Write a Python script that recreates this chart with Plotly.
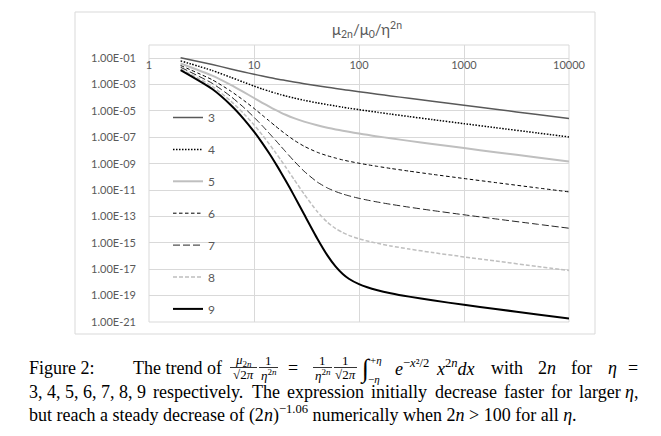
import plotly.graph_objects as go

# ---------------- data ----------------
two_n = [2, 4, 6, 8, 10, 12, 14, 16, 18, 20, 24, 30, 40, 50, 60, 70, 80,
         100, 120, 150, 200, 300, 500, 1000, 2000, 5000, 10000]

eta3 = [1.079e-1, 3.300e-2, 1.538e-2, 9.006e-3, 6.051e-3, 4.441e-3, 3.461e-3, 2.813e-3,
        2.359e-3, 2.025e-3, 1.572e-3, 1.171e-3, 8.180e-4, 6.272e-4, 5.080e-4, 4.270e-4,
        3.681e-4, 2.884e-4, 2.371e-4, 1.871e-4, 1.385e-4, 9.107e-5, 5.405e-5, 2.681e-5,
        1.335e-5, 5.327e-6, 2.661e-6]
eta4 = [6.243e-2, 1.164e-2, 3.570e-3, 1.495e-3, 7.740e-4, 4.652e-4, 3.111e-4, 2.247e-4,
        1.719e-4, 1.372e-4, 9.569e-5, 6.444e-5, 4.102e-5, 2.988e-5, 2.345e-5, 1.927e-5,
        1.635e-5, 1.254e-5, 1.017e-5, 7.917e-6, 5.782e-6, 3.755e-6, 2.207e-6, 1.087e-6,
        5.394e-7, 2.148e-7, 1.072e-7]
eta5 = [4.000e-2, 4.799e-3, 9.593e-4, 2.680e-4, 9.589e-5, 4.160e-5, 2.103e-5, 1.203e-5,
        7.583e-6, 5.168e-6, 2.852e-6, 1.544e-6, 8.133e-7, 5.364e-7, 3.990e-7, 3.162e-7,
        2.616e-7, 1.940e-7, 1.541e-7, 1.176e-7, 8.434e-8, 5.383e-8, 3.123e-8, 1.523e-8,
        7.524e-9, 2.988e-9, 1.490e-9]
eta6 = [2.778e-2, 2.315e-3, 3.215e-4, 6.251e-5, 1.563e-5, 4.773e-6, 1.721e-6, 7.152e-7,
        3.357e-7, 1.752e-7, 6.196e-8, 2.112e-8, 7.366e-9, 4.006e-9, 2.667e-9, 1.929e-9,
        1.537e-9, 1.088e-9, 8.400e-10, 6.253e-10, 4.381e-10, 2.738e-10, 1.564e-10, 7.548e-11,
        3.709e-11, 1.468e-11, 7.316e-12]
eta7 = [2.041e-2, 1.249e-3, 1.275e-4, 1.821e-5, 3.345e-6, 7.510e-7, 1.992e-7, 6.099e-8,
        2.116e-8, 8.203e-9, 1.646e-9, 2.689e-10, 4.106e-11, 1.451e-11, 7.731e-12, 5.057e-12,
        3.704e-12, 2.380e-12, 1.746e-12, 1.242e-12, 8.378e-13, 5.067e-13, 2.828e-13, 1.343e-13,
        6.552e-14, 2.583e-14, 1.285e-14]
eta8 = [1.5625e-2, 7.324e-4, 5.722e-5, 6.258e-6, 8.801e-7, 1.513e-7, 3.073e-8, 7.201e-9,
        1.913e-9, 5.679e-10, 6.697e-11, 4.998e-12, 2.377e-13, 3.667e-14, 1.198e-14, 5.959e-15,
        3.720e-15, 2.027e-15, 1.369e-15, 9.146e-16, 5.861e-16, 3.403e-16, 1.849e-16, 8.626e-17,
        4.173e-17, 1.637e-17, 8.135e-18]
eta9 = [1.235e-2, 4.572e-4, 2.823e-5, 2.439e-6, 2.710e-7, 3.681e-8, 5.907e-9, 1.094e-9,
        2.296e-10, 5.385e-11, 3.965e-12, 1.460e-13, 2.164e-15, 1.129e-16, 1.554e-17, 4.332e-18,
        1.902e-18, 7.336e-19, 4.267e-19, 2.565e-19, 1.526e-19, 8.383e-20, 4.402e-20, 2.011e-20,
        9.637e-21, 3.761e-21, 1.865e-21]

series_names = ["3", "4", "5", "6", "7", "8", "9"]
series_values = [eta3, eta4, eta5, eta6, eta7, eta8, eta9]

x_tick_vals = [1, 10, 100, 1000, 10000]
x_tick_text = ["1", "10", "100", "1000", "10000"]
y_tick_vals = [1e-21, 1e-19, 1e-17, 1e-15, 1e-13, 1e-11, 1e-9, 1e-7, 1e-5, 1e-3, 1e-1]
y_tick_text = ["1.00E-21", "1.00E-19", "1.00E-17", "1.00E-15", "1.00E-13", "1.00E-11",
               "1.00E-09", "1.00E-07", "1.00E-05", "1.00E-03", "1.00E-01"]

# ---------------- styles ----------------
styles = [
    dict(color="#595959", width=1.5, dash="solid"),
    dict(color="#000000", width=1.5, dash="1.5px,1.5px"),
    dict(color="#bfbfbf", width=2, dash="solid"),
    dict(color="#000000", width=1, dash="3.5px,2.5px"),
    dict(color="#262626", width=1, dash="7px,3px"),
    dict(color="#bfbfbf", width=1.5, dash="4px,2px"),
    dict(color="#000000", width=2, dash="solid"),
]

W, H = 661, 436
L, R, T, B = 149, 569, 45, 322
GRID = "#d9d9d9"
TXT = "#595959"


def px(x):
    return (x - L) / (R - L)


def py(y):
    return (B - y) / (B - T)


fig = go.Figure()
for name, vals, st in zip(series_names, series_values, styles):
    fig.add_trace(go.Scatter(
        x=two_n, y=vals, mode="lines", name=name, legendgroup=name,
        line=dict(color=st["color"], width=st["width"], dash=st["dash"], shape="spline", smoothing=0.6),
        hoverinfo="skip"))

fig.update_layout(
    width=W, height=H,
    margin=dict(l=L, r=W - R, t=T, b=H - B, pad=0),
    paper_bgcolor="white", plot_bgcolor="white",
    font=dict(family="Lato", color=TXT, size=11),
    xaxis=dict(type="log", range=[0, 4], tickvals=x_tick_vals, ticktext=x_tick_text,
               showgrid=True, gridcolor=GRID, gridwidth=1, zeroline=False, showline=False,
               ticks="", anchor="free", position=py(56.5), side="bottom",
               tickfont=dict(family="Lato", size=11, color=TXT)),
    yaxis=dict(type="log", range=[-21, 0], tickvals=y_tick_vals, ticktext=y_tick_text,
               showgrid=True, gridcolor=GRID, gridwidth=1, zeroline=False, showline=False,
               ticks="", ticklabelstandoff=12,
               tickfont=dict(family="Lato", size=11, color=TXT)),
    showlegend=True,
    legend=dict(x=px(168), y=py(103), xanchor="left", yanchor="top",
                bgcolor="rgba(0,0,0,0)", borderwidth=0, traceorder="grouped",
                tracegroupgap=12.9, itemwidth=30,
                font=dict(family="Lato", size=12, color=TXT)),
)

shapes = []
shapes.append(dict(type="rect", xref="paper", yref="paper", x0=px(75), x1=px(595),
                   y0=py(334), y1=py(12), line=dict(color=GRID, width=1), layer="below"))
shapes.append(dict(type="rect", xref="paper", yref="paper", x0=0, x1=1, y0=0, y1=1,
                   line=dict(color=GRID, width=1), layer="below"))

annotations = []
SERIF = "Liberation Serif"


def ann(text, x, y, size, anchor="left", color="black", family=SERIF):
    annotations.append(dict(text=text, x=px(x), y=py(y), xref="paper", yref="paper",
                            xanchor=anchor, yanchor="middle", showarrow=False,
                            font=dict(family=family, size=size, color=color)))


def bar(x0, x1, y):
    shapes.append(dict(type="line", xref="paper", yref="paper", x0=px(x0), x1=px(x1),
                       y0=py(y), y1=py(y), line=dict(color="black", width=0.8)))


# Times-compatible advance widths (1/1000 em) for the caption font
CW = {' ': 250, ',': 250, '.': 250, ':': 278, '(': 333, ')': 333, '=': 564, '>': 564,
      '−': 564, '+': 564, 'F': 556, 'T': 611, 'a': 444, 'b': 500, 'c': 444, 'd': 500,
      'e': 444, 'f': 333, 'g': 500, 'h': 500, 'i': 278, 'l': 278, 'm': 778, 'n': 500,
      'o': 500, 'p': 500, 'r': 333, 's': 389, 't': 278, 'u': 500, 'v': 500, 'w': 722,
      'x': 500, 'y': 500, 'η': 500}


def tw(s, size):
    return sum(CW.get(c, 500) for c in s) * size / 1000.0


def justify(words, x0, x1, y, size):
    total = sum(w for _, w in words)
    gap = (x1 - x0 - total) / (len(words) - 1)
    x = x0
    for i, (html, w) in enumerate(words):
        if i == len(words) - 1:
            ann(html, x1, y, size, anchor="right")
        else:
            ann(html, x, y, size)
        x += w + gap


# chart title
ann("μ<sub>2n</sub>/μ<sub>0</sub>/η<sup>2n</sup>", 367, 30, 15, anchor="center", color=TXT, family="Lato")

CAP = 18
FR = 13
y1, y2, y3 = 367.5, 392, 413.5

# caption line 1
ann("Figure 2:", 27, y1, CAP)
ann("The trend of", 224, y1, CAP, anchor="right")
ann("<i>μ</i><sub>2<i>n</i></sub>", 243.5, 360.5, FR, anchor="center")
bar(230, 257, 367.5)
ann("√2<i>π</i>", 243.5, 374.5, FR, anchor="center")
ann("1", 268.5, 360.5, FR, anchor="center")
bar(259, 278, 367.5)
ann("<i>η</i><sup>2<i>n</i></sup>", 268.5, 374.5, FR, anchor="center")
ann("=", 293, y1, CAP, anchor="center")
ann("1", 322.5, 360.5, FR, anchor="center")
bar(313, 332, 367.5)
ann("<i>η</i><sup>2<i>n</i></sup>", 322.5, 374.5, FR, anchor="center")
ann("1", 345.5, 360.5, FR, anchor="center")
bar(334, 357, 367.5)
ann("√2<i>π</i>", 345.5, 374.5, FR, anchor="center")
ann("∫", 358, 369, 26)
ann("+<i>η</i>", 368, 359.5, 11)
ann("−<i>η</i>", 366, 378.5, 11)
ann("<i>e</i><sup>−<i>x</i>²/2</sup>", 393, y1, CAP)
line1_words = [
    ("<i>x</i><sup>2<i>n</i></sup><i>dx</i>", tw("x", CAP) + tw("2n", CAP * 0.7) + tw("dx", CAP)),
    ("with", tw("with", CAP)),
    ("2<i>n</i>", tw("2n", CAP)),
    ("for", tw("for", CAP)),
    ("<i>η</i>", tw("η", CAP)),
    ("=", tw("=", CAP)),
]
justify(line1_words, 434, 640, y1, CAP)

# caption line 2 (justified)
line2 = ["3, 4, 5, 6, 7, 8, 9", "respectively.", "The", "expression", "initially",
         "decrease", "faster", "for", "larger", "<i>η</i>,"]
line2_words = [(w, tw(w.replace("<i>", "").replace("</i>", ""), CAP)) for w in line2]
justify(line2_words, 27, 640, y2, CAP)

# caption line 3 (natural width)
ann("but reach a steady decrease of (2<i>n</i>)<sup>−1.06</sup> numerically when 2<i>n</i> &gt; 100 for all <i>η</i>.",
    27, y3, CAP)

fig.update_layout(shapes=shapes, annotations=annotations)
fig.write_html("out.html")
